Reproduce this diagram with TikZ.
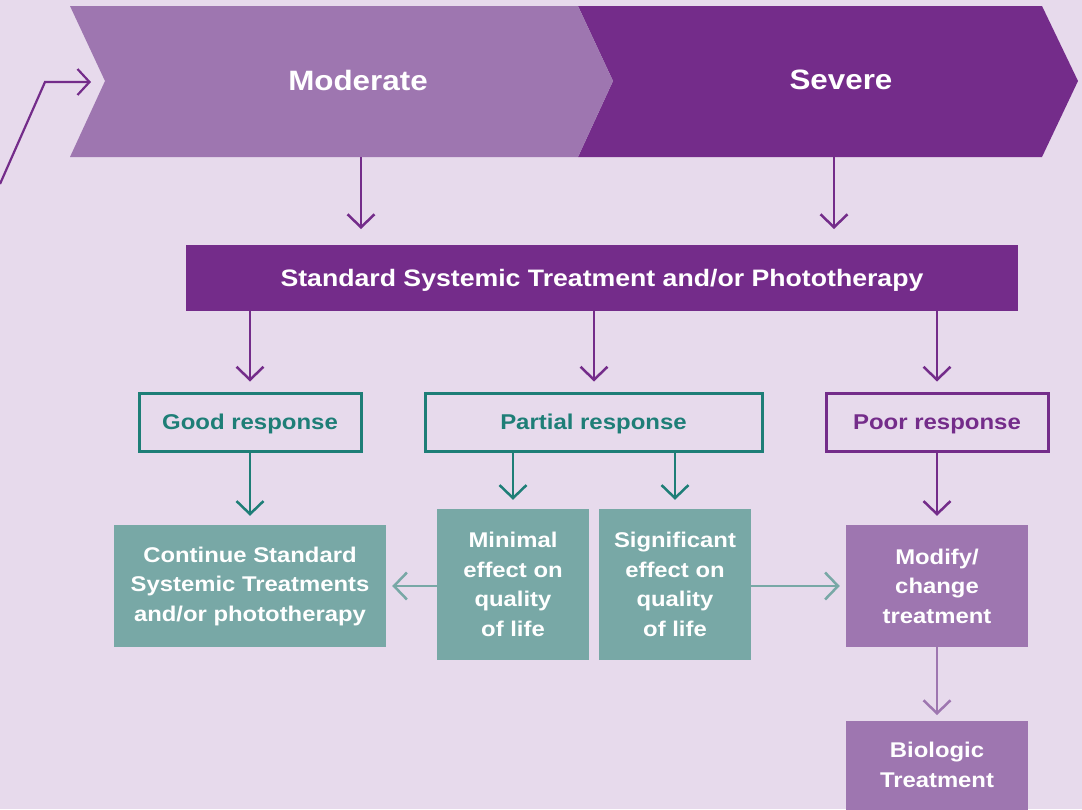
\documentclass[tikz,border=0pt]{standalone}
\usepackage{fontspec}
\setmainfont{Liberation Sans}[FakeStretch=1.12]
\usetikzlibrary{arrows.meta}
\definecolor{bgc}{HTML}{E7DAEC}
\definecolor{modc}{HTML}{9E76B0}
\definecolor{sevc}{HTML}{742C8A}
\definecolor{tealb}{HTML}{1E7E77}
\definecolor{tealf}{HTML}{78A8A6}
\tikzset{
  arr/.style={line width=2.5pt, -{Straight Barb[length=13pt,width=27pt,line width=2.5pt]}},
  fillbox/.style={inner sep=0pt, align=center, text=white, font=\fontsize{21.3}{29.5}\selectfont\bfseries},
  respbox/.style={draw, line width=3pt, inner sep=0pt, text depth=0pt, font=\fontsize{21.4}{25}\selectfont\bfseries},
}
\begin{document}
\begin{tikzpicture}[x=1pt,y=-1pt]
\useasboundingbox (0,0) rectangle (1082,809);
\fill[bgc] (0,0) rectangle (1082,809);
% chevrons
\fill[sevc] (578,6) -- (1042,6) -- (1078,81) -- (1042,157) -- (578,157) -- (613,81) -- cycle;
\fill[modc] (70,6) -- (578,6) -- (613,81) -- (578,157) -- (70,157) -- (105,81) -- cycle;
\node[text=white, font=\fontsize{28}{30}\selectfont\bfseries] (mod) at (358,80) {Moderate};
\node[text=white, font=\fontsize{28}{30}\selectfont\bfseries] (sev) at (841,80) {Severe};
\coordinate (modb) at (361,157);
\coordinate (sevb) at (834,157);
\coordinate (notch) at (91,82);
\coordinate (bend) at (45,82);
\coordinate (start) at (0,184);
\draw[sevc, line width=2.2pt, -{Straight Barb[length=12pt,width=26pt,line width=2.2pt]}] (start) -- (bend) -- (notch);
% standard
\node[fillbox, fill=sevc, minimum width=832pt, minimum height=66pt, text depth=0pt, font=\fontsize{23.8}{28}\selectfont\bfseries] (std) at (602,278) {Standard Systemic Treatment and/or Phototherapy};
\draw[arr, sevc] (modb) -- (361,229);
\draw[arr, sevc] (sevb) -- (834,229);
% responses
\node[respbox, draw=tealb, text=tealb, minimum width=222pt, minimum height=58pt] (good) at (250,422) {Good response};
\node[respbox, draw=tealb, text=tealb, minimum width=337pt, minimum height=58pt] (part) at (593.5,422) {Partial response};
\node[respbox, draw=sevc, text=sevc, minimum width=222pt, minimum height=58pt] (poor) at (937,422) {Poor response};
\draw[arr, sevc] (std.south -| good) -- ([yshift=10pt]good.north);
\draw[arr, sevc] (std.south -| 594,0) -- ([yshift=10pt]part.north -| 594,0);
\draw[arr, sevc] (std.south -| poor) -- ([yshift=10pt]poor.north);
% outcomes
\node[fillbox, fill=tealf, minimum width=272pt, minimum height=122pt] (cont) at (250,586) {Continue Standard\\Systemic Treatments\\and/or phototherapy};
\node[fillbox, fill=tealf, minimum width=152pt, minimum height=151pt] (mini) at (513,584.5) {Minimal\\effect on\\quality\\of life};
\node[fillbox, fill=tealf, minimum width=152pt, minimum height=151pt] (sig) at (675,584.5) {Significant\\effect on\\quality\\of life};
\node[fillbox, fill=modc, minimum width=182pt, minimum height=122pt] (modi) at (937,586) {Modify/\\change\\treatment};
\node[fillbox, fill=modc, minimum width=182pt, minimum height=100pt, anchor=north] (bio) at (937,721) {};
\node[fillbox] (biot) at (937,765) {Biologic\\Treatment};
\draw[arr, tealb] (good.south) -- ([yshift=9pt]cont.north);
\draw[arr, tealb] (part.south -| mini) -- ([yshift=9pt]mini.north);
\draw[arr, tealb] (part.south -| sig) -- ([yshift=9pt]sig.north);
\draw[arr, sevc] (poor.south) -- ([yshift=9pt]modi.north);
\draw[arr, tealf] (mini.west |- 0,586) -- ([xshift=6pt]cont.east |- 0,586);
\draw[arr, tealf] (sig.east |- 0,586) -- ([xshift=-6pt]modi.west |- 0,586);
\draw[arr, modc] (modi.south) -- ([yshift=6pt]bio.north);
\end{tikzpicture}
\end{document}
